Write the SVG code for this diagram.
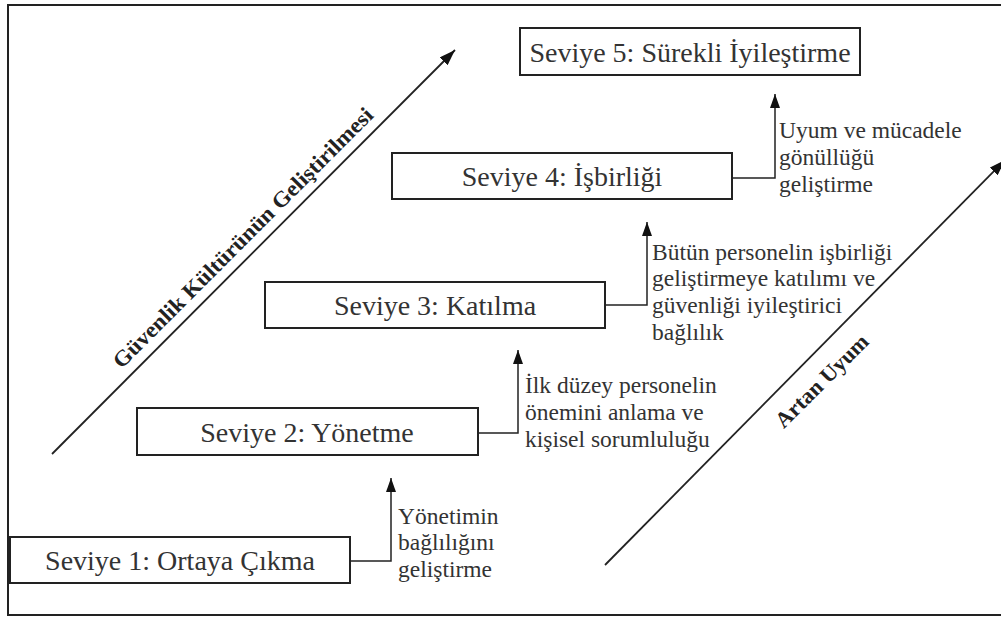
<svg xmlns="http://www.w3.org/2000/svg" width="1001" height="617" viewBox="0 0 1001 617">
<style>
.box{fill:#fff;stroke:#222;stroke-width:2}
.bt{font-family:"Liberation Serif","Times New Roman",serif;font-size:28px;fill:#333;text-anchor:middle}
.lb{font-family:"Liberation Serif","Times New Roman",serif;font-size:23.5px;fill:#333}
.dg{font-family:"Liberation Serif","Times New Roman",serif;font-size:22px;font-weight:bold;fill:#222;text-anchor:middle}
.con{fill:none;stroke:#222;stroke-width:1.5}
.diag{fill:none;stroke:#222;stroke-width:1.8}
</style>
<defs>
<marker id="ah" viewBox="0 0 14 10" refX="14" refY="5" markerWidth="14" markerHeight="10" markerUnits="userSpaceOnUse" orient="auto">
<path d="M0,0 L14,5 L0,10 z" fill="#111"/>
</marker>
<marker id="ahb" viewBox="0 0 16 11" refX="16" refY="5.5" markerWidth="16" markerHeight="11" markerUnits="userSpaceOnUse" orient="auto">
<path d="M0,0 L16,5.5 L0,11 z" fill="#111"/>
</marker>
</defs>
<rect x="0" y="0" width="1001" height="617" fill="#fff"/>
<rect x="8" y="5" width="1000" height="610" fill="none" stroke="#222" stroke-width="2"/>

<g id="connectors">
<path class="con" d="M350,561 H391 V478" marker-end="url(#ah)"/>
<path class="con" d="M478,433 H518 V350" marker-end="url(#ah)"/>
<path class="con" d="M605,305 H647 V222" marker-end="url(#ah)"/>
<path class="con" d="M732,178 H775 V94" marker-end="url(#ah)"/>
<path class="diag" d="M52,454 L455,50" marker-end="url(#ahb)"/>
<path class="diag" d="M605,565 L1005,160" marker-end="url(#ahb)"/>
</g>

<g id="level5">
<rect class="box" x="520" y="28" width="340" height="47"/>
<text class="bt" x="690" y="62">Seviye 5: Sürekli İyileştirme</text>
</g>
<g id="level4">
<rect class="box" x="392" y="153" width="340" height="46"/>
<text class="bt" x="562" y="186">Seviye 4: İşbirliği</text>
</g>
<g id="level3">
<rect class="box" x="265" y="282" width="340" height="46"/>
<text class="bt" x="435" y="315">Seviye 3: Katılma</text>
</g>
<g id="level2">
<rect class="box" x="137" y="408" width="341" height="47"/>
<text class="bt" x="307" y="442">Seviye 2: Yönetme</text>
</g>
<g id="level1">
<rect class="box" x="10" y="537" width="340" height="46"/>
<text class="bt" x="180" y="570">Seviye 1: Ortaya Çıkma</text>
</g>

<g id="label1">
<text class="lb" x="398" y="524">Yönetimin</text>
<text class="lb" x="398" y="550">bağlılığını</text>
<text class="lb" x="398" y="577">geliştirme</text>
</g>
<g id="label2">
<text class="lb" x="525" y="393">İlk düzey personelin</text>
<text class="lb" x="525" y="420">önemini anlama ve</text>
<text class="lb" x="525" y="447">kişisel sorumluluğu</text>
</g>
<g id="label3">
<text class="lb" x="652" y="260">Bütün personelin işbirliği</text>
<text class="lb" x="652" y="286">geliştirmeye katılımı ve</text>
<text class="lb" x="652" y="313">güvenliği iyileştirici</text>
<text class="lb" x="652" y="340">bağlılık</text>
</g>
<g id="label4">
<text class="lb" x="779" y="138">Uyum ve mücadele</text>
<text class="lb" x="779" y="165">gönüllüğü</text>
<text class="lb" x="779" y="192">geliştirme</text>
</g>

<g id="axis-left">
<text class="dg" transform="translate(248,243) rotate(-45)" textLength="358" lengthAdjust="spacingAndGlyphs">Güvenlik Kültürünün Geliştirilmesi</text>
</g>
<g id="axis-right">
<text class="dg" transform="translate(827,386) rotate(-45)" textLength="122" lengthAdjust="spacingAndGlyphs">Artan Uyum</text>
</g>
</svg>
